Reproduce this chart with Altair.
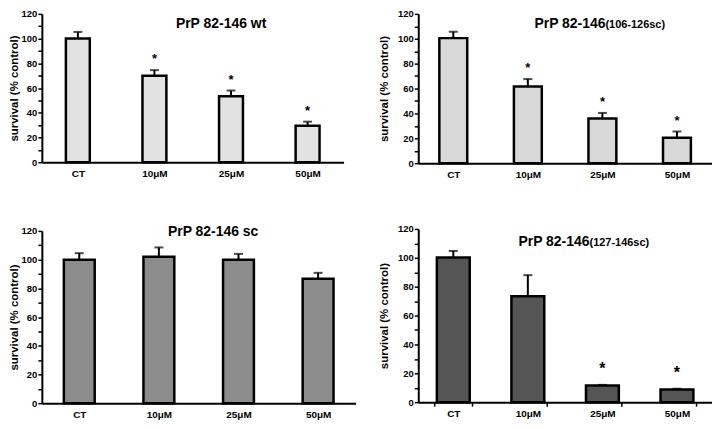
import altair as alt
import pandas as pd

categories = ["CT", "10μM", "25μM", "50μM"]

# panel values (survival % control), error-bar tops and significance marks
wt_vals = [100, 70, 53.3, 29.5]
wt_errs = [105.4, 74.5, 58.0, 32.8]
wt_stars = [False, True, True, True]

sc106_vals = [100.5, 61.7, 36, 20.5]
sc106_errs = [105.6, 67.6, 40.4, 25.5]
sc106_stars = [False, True, True, True]

sc_vals = [100, 102, 100, 86.7]
sc_errs = [104.5, 108.5, 104, 90.8]
sc_stars = [False, False, False, False]

sc127_vals = [100.2, 73.3, 11.5, 8.8]
sc127_errs = [104.7, 88.0, 12.0, 9.3]
sc127_stars = [False, False, True, True]

y_ticks = list(range(0, 121, 10))
FONT = "Liberation Sans"
Y_TITLE = "survival (% control)"


def panel(vals, errs, stars, fill, width, height, bar_size, title_main, title_sub,
          title_x, title_y, star_dy, star_size, x_ticks=False, x_label_pad=6,
          y_title_pad=2):
    df = pd.DataFrame({"cat": categories, "val": vals, "err": errs, "star": stars})
    xenc = alt.X(
        "cat:N", sort=categories, title=None,
        scale=alt.Scale(paddingInner=0.5, paddingOuter=0.22),
        axis=alt.Axis(labelAngle=0, labelFont=FONT, labelFontWeight="bold",
                      labelFontSize=10, labelColor="black", domainColor="black",
                      domainWidth=2, ticks=x_ticks, tickBand="extent", tickColor="black",
                      tickWidth=1.5, tickSize=4, labelPadding=x_label_pad, grid=False),
    )
    yscale = alt.Scale(domain=[0, 120], nice=False)
    yaxis = alt.Axis(values=y_ticks, labelExpr="datum.value % 20 == 0 ? datum.label : ''",
                     labelOverlap=False,
                     labelFont=FONT, labelFontWeight="bold", labelFontSize=9.5,
                     labelColor="black", domainColor="black", domainWidth=2,
                     tickColor="black", tickWidth=1.5, tickSize=4, labelPadding=1,
                     titleFont=FONT, titleFontWeight="bold", titleFontSize=11.5,
                     titleColor="black", titlePadding=y_title_pad, grid=False)
    base = alt.Chart(df).encode(x=xenc)
    bars = base.mark_bar(size=bar_size, fill=fill, stroke="black", strokeWidth=2.5).encode(
        y=alt.Y("val:Q", scale=yscale, axis=yaxis, title=Y_TITLE))
    err_line = base.mark_rule(color="black", strokeWidth=2).encode(
        y=alt.Y("val:Q", scale=yscale, axis=yaxis, title=Y_TITLE), y2="err:Q")
    err_cap = base.mark_tick(color="black", thickness=2, size=9).encode(
        y=alt.Y("err:Q", scale=yscale, axis=yaxis, title=Y_TITLE))
    star = base.transform_filter("datum.star").mark_text(
        text="*", font=FONT, fontWeight="bold", fontSize=star_size, color="black",
        baseline="middle", dy=star_dy).encode(
        y=alt.Y("err:Q", scale=yscale, axis=yaxis, title=Y_TITLE))
    tdf = pd.DataFrame({"main": [title_main], "sub": [title_sub]})
    layers = [bars, err_line, err_cap, star]
    if title_sub:
        t1 = alt.Chart(tdf).mark_text(font=FONT, fontWeight="bold", fontSize=14, align="right",
                                      baseline="middle", color="black").encode(
            text="main:N", x=alt.value(title_x), y=alt.value(title_y))
        t2 = alt.Chart(tdf).mark_text(font=FONT, fontWeight="bold", fontSize=11, align="left",
                                      baseline="middle", color="black", dy=1).encode(
            text="sub:N", x=alt.value(title_x), y=alt.value(title_y))
        layers += [t1, t2]
    else:
        t1 = alt.Chart(tdf).mark_text(font=FONT, fontWeight="bold", fontSize=14, align="center",
                                      baseline="middle", color="black").encode(
            text="main:N", x=alt.value(title_x), y=alt.value(title_y))
        layers += [t1]
    return alt.layer(*layers).properties(width=width, height=height)


p1 = panel(wt_vals, wt_errs, wt_stars, "#e2e2e2", 303, 149, 24, "PrP 82-146 wt", "",
           180, 10, -11, 13)
p2 = panel(sc106_vals, sc106_errs, sc106_stars, "#d8d8d8", 295, 150, 28, "PrP 82-146", "(106-126sc)",
           188, 10, -11, 13, y_title_pad=8)
p3 = panel(sc_vals, sc_errs, sc_stars, "#8c8c8c", 315, 173, 31, "PrP 82-146 sc", "",
           172, 1, -12, 13)
p4 = panel(sc127_vals, sc127_errs, sc127_stars, "#555555", 295, 174, 33, "PrP 82-146", "(127-146sc)",
           172, 13, -16, 16, x_ticks=True, x_label_pad=2, y_title_pad=8)

col1 = alt.vconcat(p1, p3, spacing=69, bounds="flush")
col2 = alt.vconcat(p2, p4, spacing=66, bounds="flush")
chart = alt.hconcat(col1, col2, spacing=23).properties(padding=0).configure_view(stroke=None)

chart.save("out.html", embed_options={"renderer": "svg", "actions": False})
